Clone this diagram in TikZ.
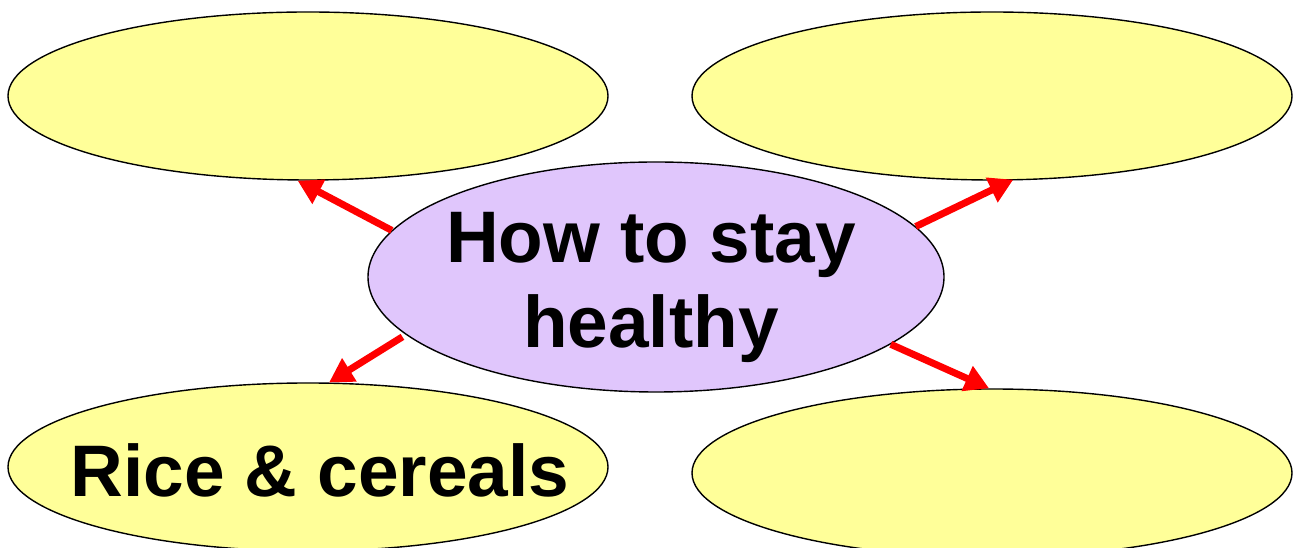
\documentclass[tikz,border=0pt]{standalone}
\usepackage{fontspec}
\setmainfont{Liberation Sans}
\usetikzlibrary{arrows.meta,shapes.geometric}
\definecolor{bubbleyellow}{RGB}{255,255,153}
\definecolor{hublilac}{RGB}{224,198,252}
\tikzset{
  bubble/.style={ellipse, draw=black, line width=1.4pt, fill=bubbleyellow,
    minimum width=600pt, minimum height=168pt, inner sep=0pt},
  hubbox/.style={ellipse, draw=black, line width=1.4pt, fill=hublilac,
    minimum width=576pt, minimum height=230pt, inner sep=0pt},
  bigtxt/.style={font=\fontsize{73}{85}\selectfont\bfseries, align=center, inner sep=0pt},
  spoke/.style={-{Triangle[length=24pt,width=26pt]}, line width=7pt, red},
}
\newcommand{\branch}[3][]{\draw[spoke,#1] (#2) -- (#3);}

\begin{document}
\begin{tikzpicture}[x=1pt, y=1pt]
  \useasboundingbox (0,0) rectangle (1296,548);

  %% ---- outer bubbles ----
  \node[bubble] (tl) at (308, 452) {};
  \node[bubble] (tr) at (992, 452) {};
  \node[bubble] (bl) at (308,  81) {};
  \node[bubble] (br) at (992,  75) {};
  \node[bigtxt] (bltxt) at ([xshift=12pt, yshift=-3pt]bl.center) {Rice \& cereals};

  %% ---- centre ----
  \node[hubbox] (h) at (656, 271) {};
  \node[bigtxt] (htxt) at ([xshift=-5pt, yshift=-10pt]h.center) {How to stay\\healthy};

  %% ---- arrows out of the centre ----
  \branch{h.170.5}{tl.263}
  \branch[shorten >=-2pt]{h.11}{tr.283}
  \branch[shorten <=4pt]{h.193}{bl.76}
  \branch{h.-16.5}{br.92}

\end{tikzpicture}
\end{document}
